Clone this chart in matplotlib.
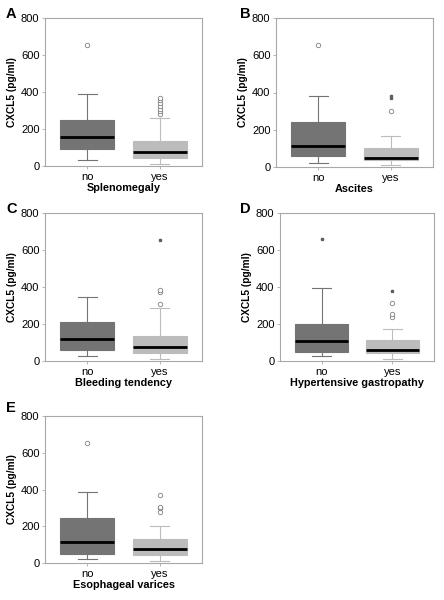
import matplotlib.pyplot as plt

plt.rcParams['font.family'] = ['Liberation Sans', 'DejaVu Sans']

# per panel: (letter, xlabel, stats for "no", stats for "yes")
# stats: whislo, q1, med, q3, whishi
panel_letters = ['A', 'B', 'C', 'D', 'E']
panel_xlabels = ['Splenomegaly', 'Ascites', 'Bleeding tendency',
                 'Hypertensive gastropathy', 'Esophageal varices']
categories = ['no', 'yes']

no_stats = [
    [31, 90, 157, 249, 390],
    [22, 58, 111, 243, 383],
    [27, 62, 118, 210, 347],
    [25, 51, 109, 200, 394],
    [22, 49, 112, 246, 388],
]
yes_stats = [
    [13, 42, 74, 134, 258],
    [13, 36, 50, 104, 167],
    [11, 45, 78, 137, 284],
    [13, 42, 58, 113, 171],
    [9, 42, 74, 132, 199],
]

# outliers (circles) and extremes (stars)
no_circles = [[652], [656], [], [], [653]]
no_stars = [[], [], [], [658], []]
yes_circles = [[280, 295, 310, 325, 340, 355, 370], [300], [310, 372, 384],
               [240, 252, 314], [280, 300, 307, 372]]
yes_stars = [[], [369, 383], [655], [377], []]

# axes rectangles in pixels (left, top, right, bottom) of a 444x600 figure
boxes_px = [(45, 18, 202, 166), (276, 18, 433, 167), (45, 213, 202, 361),
            (280, 213, 434, 361), (45, 416, 202, 563)]
letter_px = [(6, 7), (240, 7), (6, 202), (240, 202), (6, 401)]

W, H = 444, 600
fig = plt.figure(figsize=(W / 100, H / 100), dpi=100)

dark = '#747474'
light = '#bcbcbc'
frame = '#a8a8a8'

for i in range(5):
    l, t, r, b = boxes_px[i]
    ax = fig.add_axes([l / W, 1 - b / H, (r - l) / W, (b - t) / H])
    stats = []
    for cat, s in [('no', no_stats[i]), ('yes', yes_stats[i])]:
        stats.append(dict(label=cat, whislo=s[0], q1=s[1], med=s[2],
                          q3=s[3], whishi=s[4], fliers=[]))
    bp = ax.bxp(stats, positions=[1, 2], widths=0.75, patch_artist=True,
                showfliers=False, manage_ticks=False)
    cols = [dark, light]
    for j, patch in enumerate(bp['boxes']):
        patch.set_facecolor(cols[j])
        patch.set_edgecolor(cols[j])
        patch.set_linewidth(0.8)
    for j in range(2):
        for k in (2 * j, 2 * j + 1):
            bp['whiskers'][k].set_color(cols[j])
            bp['whiskers'][k].set_linewidth(0.8)
            bp['caps'][k].set_color(cols[j])
            bp['caps'][k].set_linewidth(0.8)
            bp['caps'][k].set_xdata([j + 1 - 0.13, j + 1 + 0.13])
    for m in bp['medians']:
        m.set_color('black')
        m.set_linewidth(2.0)

    for pos, circ, star in [(1, no_circles[i], no_stars[i]),
                            (2, yes_circles[i], yes_stars[i])]:
        if circ:
            ax.plot([pos] * len(circ), circ, 'o', ms=3.2, mfc='white',
                    mec='#808080', mew=0.6, ls='none')
        if star:
            ax.plot([pos] * len(star), star, '*', ms=2.3, color='#606060',
                    ls='none')

    ax.set_xlim(0.41, 2.59)
    ax.set_ylim(0, 800)
    ax.set_yticks([0, 200, 400, 600, 800])
    ax.set_xticks([1, 2])
    ax.set_xticklabels(categories)
    ax.tick_params(labelsize=8, length=2.5, width=0.6, color=frame, pad=1.5)
    for sp in ax.spines.values():
        sp.set_color(frame)
        sp.set_linewidth(0.8)
    ax.set_ylabel('CXCL5 (pg/ml)', fontsize=7.3, fontweight='bold', labelpad=3)
    ax.set_xlabel(panel_xlabels[i], fontsize=7.8, fontweight='bold', labelpad=1)
    lx, ly = letter_px[i]
    fig.text(lx / W, 1 - ly / H, panel_letters[i], fontsize=10.5,
             fontweight='bold', va='top', ha='left')

fig.savefig('out.png', dpi=100)
